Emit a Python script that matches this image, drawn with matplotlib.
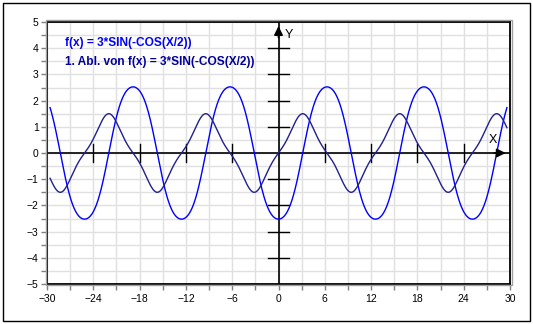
import numpy as np
import matplotlib
matplotlib.use("Agg")
import matplotlib.pyplot as plt
from matplotlib.patches import Rectangle

# function shown in the chart: f(x) = 3*SIN(-COS(X/2)) and its first derivative
amplitude = 3.0
freq = 0.5
x_range = (-30, 30)
y_range = (-5, 5)
curve_range = (-29.6, 29.6)
x_ticks = [-30, -24, -18, -12, -6, 0, 6, 12, 18, 24, 30]
y_ticks = [-5, -4, -3, -2, -1, 0, 1, 2, 3, 4, 5]
axis_xticks = [-24, -18, -12, -6, 6, 12, 18, 24]
axis_yticks = [-4, -3, -2, -1, 1, 2, 3, 4]
label_f = "f(x) = 3*SIN(-COS(X/2))"
label_df = "1. Abl. von f(x) = 3*SIN(-COS(X/2))"

x = np.linspace(curve_range[0], curve_range[1], 1200)
f = amplitude * np.sin(-np.cos(freq * x))
df = amplitude * np.cos(-np.cos(freq * x)) * np.sin(freq * x) * freq

plt.rcParams['font.family'] = ['Liberation Sans', 'DejaVu Sans']

fig = plt.figure(figsize=(5.33, 3.24), dpi=100)
W, H = 533, 324
# outer frame
fig.patches.append(Rectangle((3 / W, 1 - 321 / H), 527 / W, 318 / H, transform=fig.transFigure,
                             fill=False, edgecolor='black', lw=1))

ax = fig.add_axes([47 / W, 1 - 284 / H, 463 / W, 262 / H])
ax.set_xlim(*x_range)
ax.set_ylim(*y_range)

ax.set_xticks(x_ticks)
ax.set_yticks(y_ticks)
ax.set_xticks(np.arange(-27, 30, 6), minor=True)
ax.set_yticks(np.arange(-4.5, 5, 1), minor=True)
ax.tick_params(which='both', direction='out', color='#808080', length=4, width=1,
               labelsize=7.5, labelcolor='black', pad=2)
ax.tick_params(axis='x', pad=3)
ax.grid(which='both', color='#e0e0e0', lw=1)
ax.set_axisbelow(True)
for s in ax.spines.values():
    s.set_color('black')
    s.set_linewidth(1.3)
    s.set_zorder(5)

# light shadow frame
fig.patches.append(Rectangle((46 / W, 1 - 285 / H), 466 / W, 265 / H, transform=fig.transFigure,
                             fill=False, edgecolor='#a0a0a0', lw=1))

# coordinate axes
ax.axhline(0, color='black', lw=1.2, zorder=2)
ax.axvline(0, color='black', lw=1.2, zorder=2)
for t in axis_xticks:
    ax.plot([t, t], [-0.35, 0.35], color='black', lw=1, zorder=2)
for t in axis_yticks:
    ax.plot([-1.3, 1.3], [t, t], color='black', lw=1, zorder=2)
ax.annotate('', xy=(29.8, 0), xytext=(27.6, 0),
            arrowprops=dict(arrowstyle='-|>', color='black', lw=1.2, mutation_scale=13), zorder=4)
ax.annotate('', xy=(0, 4.95), xytext=(0, 4.3),
            arrowprops=dict(arrowstyle='-|>', color='black', lw=1.2, mutation_scale=13), zorder=4)
ax.text(27.8, 0.5, 'X', fontsize=9, ha='center', va='center', zorder=4)
ax.text(1.4, 4.52, 'Y', fontsize=9, ha='center', va='center', zorder=4)

ax.plot(x, f, color='#0000ff', lw=1, zorder=3)
ax.plot(x, df, color='#20208e', lw=1, zorder=3)

ax.text(-27.7, 4.2, label_f, color='#0000ff', fontsize=8.6, fontweight='bold', va='center')
ax.text(-27.7, 3.47, label_df, color='#000099', fontsize=8.6, fontweight='bold', va='center')

fig.savefig('out.png', dpi=100)
